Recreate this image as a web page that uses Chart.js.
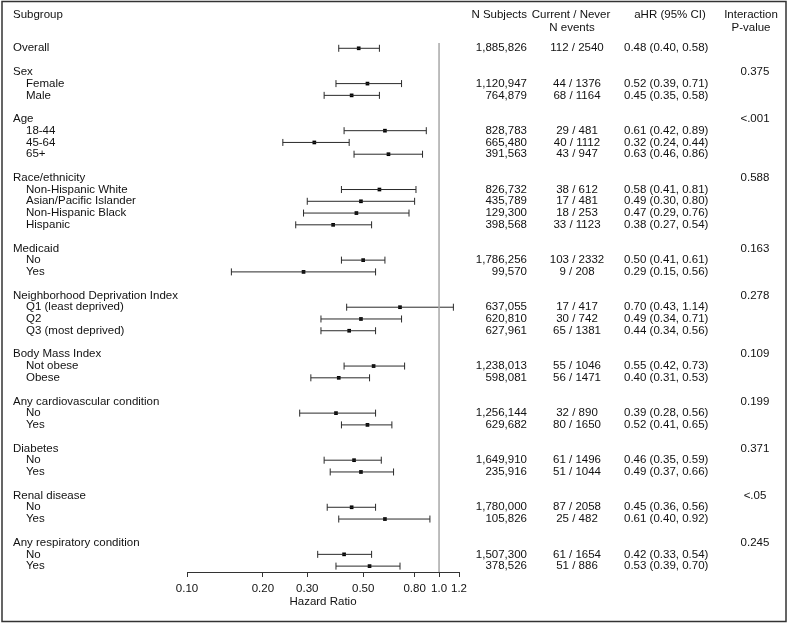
<!DOCTYPE html>
<html lang="en">
<head>
    <meta charset="UTF-8">
    <title>Forest plot - hazard ratios by subgroup</title>
    <script src="https://cdn.jsdelivr.net/npm/chart.js@4.4.1/dist/chart.umd.min.js"></script>
    <style>
        html, body { margin: 0; padding: 0; background: #ffffff; }
        #wrap { width: 788px; height: 624px; position: relative; }
    </style>
</head>
<body>
<div id="wrap"><canvas id="forest" width="788" height="624"></canvas></div>
<script>
    // one entry per row, '' = spacer row
    const rowLabels = ['Overall', '',
        'Sex', 'Female', 'Male', '',
        'Age', '18-44', '45-64', '65+', '',
        'Race/ethnicity', 'Non-Hispanic White', 'Asian/Pacific Islander', 'Non-Hispanic Black', 'Hispanic', '',
        'Medicaid', 'No', 'Yes', '',
        'Neighborhood Deprivation Index', 'Q1 (least deprived)', 'Q2', 'Q3 (most deprived)', '',
        'Body Mass Index', 'Not obese', 'Obese', '',
        'Any cardiovascular condition', 'No', 'Yes', '',
        'Diabetes', 'No', 'Yes', '',
        'Renal disease', 'No', 'Yes', '',
        'Any respiratory condition', 'No', 'Yes'];

    const hr = [0.48, null,
        null, 0.52, 0.45, null,
        null, 0.61, 0.32, 0.63, null,
        null, 0.58, 0.49, 0.47, 0.38, null,
        null, 0.50, 0.29, null,
        null, 0.70, 0.49, 0.44, null,
        null, 0.55, 0.40, null,
        null, 0.39, 0.52, null,
        null, 0.46, 0.49, null,
        null, 0.45, 0.61, null,
        null, 0.42, 0.53];
    const lower = [0.40, null,
        null, 0.39, 0.35, null,
        null, 0.42, 0.24, 0.46, null,
        null, 0.41, 0.30, 0.29, 0.27, null,
        null, 0.41, 0.15, null,
        null, 0.43, 0.34, 0.34, null,
        null, 0.42, 0.31, null,
        null, 0.28, 0.41, null,
        null, 0.35, 0.37, null,
        null, 0.36, 0.40, null,
        null, 0.33, 0.39];
    const upper = [0.58, null,
        null, 0.71, 0.58, null,
        null, 0.89, 0.44, 0.86, null,
        null, 0.81, 0.80, 0.76, 0.54, null,
        null, 0.61, 0.56, null,
        null, 1.14, 0.71, 0.56, null,
        null, 0.73, 0.53, null,
        null, 0.56, 0.65, null,
        null, 0.59, 0.66, null,
        null, 0.56, 0.92, null,
        null, 0.54, 0.70];

    const nSubjects = ['1,885,826', '',
        '', '1,120,947', '764,879', '',
        '', '828,783', '665,480', '391,563', '',
        '', '826,732', '435,789', '129,300', '398,568', '',
        '', '1,786,256', '99,570', '',
        '', '637,055', '620,810', '627,961', '',
        '', '1,238,013', '598,081', '',
        '', '1,256,144', '629,682', '',
        '', '1,649,910', '235,916', '',
        '', '1,780,000', '105,826', '',
        '', '1,507,300', '378,526'];
    const nEvents = ['112 / 2540', '',
        '', '44 / 1376', '68 / 1164', '',
        '', '29 / 481', '40 / 1112', '43 / 947', '',
        '', '38 / 612', '17 / 481', '18 / 253', '33 / 1123', '',
        '', '103 / 2332', '9 / 208', '',
        '', '17 / 417', '30 / 742', '65 / 1381', '',
        '', '55 / 1046', '56 / 1471', '',
        '', '32 / 890', '80 / 1650', '',
        '', '61 / 1496', '51 / 1044', '',
        '', '87 / 2058', '25 / 482', '',
        '', '61 / 1654', '51 / 886'];
    const pValues = ['', '',
        '0.375', '', '', '',
        '<.001', '', '', '', '',
        '0.588', '', '', '', '', '',
        '0.163', '', '', '',
        '0.278', '', '', '', '',
        '0.109', '', '', '',
        '0.199', '', '', '',
        '0.371', '', '', '',
        '<.05', '', '', '',
        '0.245', '', ''];

    const tickValues = [0.10, 0.20, 0.30, 0.50, 0.80, 1.0, 1.2];
    const tickLabels = ['0.10', '0.20', '0.30', '0.50', '0.80', '1.0', '1.2'];

    const FONT = '"Liberation Sans", Arial, Helvetica, sans-serif';
    const FSIZE = 11.5;
    const INK = '#111111';
    const yMin = -0.45, yMax = 44.5;

    // datasets
    const datasets = [];
    datasets.push({
        type: 'line',
        data: [{ x: 1, y: yMin }, { x: 1, y: yMax }],
        borderColor: '#a8a8a8',
        borderWidth: 1.5,
        pointRadius: 0
    });
    rowLabels.forEach((lab, i) => {
        if (hr[i] == null) return;
        datasets.push({
            type: 'line',
            data: [{ x: lower[i], y: i }, { x: upper[i], y: i }],
            borderColor: '#2a2a2a',
            borderWidth: 1,
            pointStyle: 'line',
            pointRotation: 90,
            pointRadius: 3.5,
            pointBorderWidth: 1,
            pointBorderColor: '#2a2a2a'
        });
    });
    datasets.push({
        type: 'scatter',
        data: hr.map((v, i) => v == null ? null : { x: v, y: i }).filter(p => p),
        pointStyle: 'rect',
        pointRadius: 2.6,
        backgroundColor: '#000000',
        borderColor: '#000000',
        borderWidth: 0
    });

    // text columns + frame
    const tablePlugin = {
        id: 'tableText',
        afterDraw(chart) {
            const ctx = chart.ctx;
            const ys = chart.scales.y;
            ctx.save();
            ctx.fillStyle = INK;
            ctx.font = FSIZE + 'px ' + FONT;
            ctx.textBaseline = 'middle';

            // headers
            ctx.textAlign = 'left';
            ctx.fillText('Subgroup', 13, 15);
            ctx.textAlign = 'right';
            ctx.fillText('N Subjects', 527, 15);
            ctx.textAlign = 'center';
            ctx.fillText('Current / Never', 571, 15);
            ctx.fillText('N events', 572, 28);
            ctx.fillText('aHR (95% CI)', 670, 15);
            ctx.fillText('Interaction', 751, 15);
            ctx.fillText('P-value', 751, 28);

            rowLabels.forEach((lab, i) => {
                const y = ys.getPixelForValue(i);
                if (lab) {
                    ctx.textAlign = 'left';
                    const indent = (hr[i] != null && i > 0) ? 26 : 13;
                    ctx.fillText(lab, indent, y);
                }
                if (nSubjects[i]) {
                    ctx.textAlign = 'right';
                    ctx.fillText(nSubjects[i], 527, y);
                }
                if (nEvents[i]) {
                    ctx.textAlign = 'center';
                    ctx.fillText(nEvents[i], 577, y);
                }
                if (hr[i] != null) {
                    ctx.textAlign = 'left';
                    ctx.fillText(hr[i].toFixed(2) + ' (' + lower[i].toFixed(2) + ', ' + upper[i].toFixed(2) + ')', 624, y);
                }
                if (pValues[i]) {
                    ctx.textAlign = 'center';
                    ctx.fillText(pValues[i], 755, y);
                }
            });

            // outer frame
            ctx.strokeStyle = '#333333';
            ctx.lineWidth = 1.5;
            ctx.strokeRect(2, 1.5, 784, 620);
            ctx.restore();
        }
    };

    new Chart(document.getElementById('forest'), {
        type: 'line',
        data: { datasets: datasets },
        options: {
            responsive: false,
            animation: false,
            devicePixelRatio: 1,
            layout: { padding: { left: 187, right: 329, top: 43, bottom: 0 } },
            plugins: {
                legend: { display: false },
                tooltip: { enabled: false }
            },
            scales: {
                x: {
                    type: 'logarithmic',
                    min: 0.1,
                    max: 1.2,
                    afterBuildTicks: scale => {
                        scale.ticks = tickValues.map(v => ({ value: v }));
                    },
                    afterFit: scale => { scale.height = 52; },
                    grid: {
                        drawOnChartArea: false,
                        drawTicks: true,
                        tickLength: 5,
                        color: '#333333'
                    },
                    border: { display: true, color: '#333333', width: 1 },
                    ticks: {
                        autoSkip: false,
                        maxRotation: 0,
                        padding: 5,
                        color: INK,
                        font: { family: FONT, size: FSIZE },
                        callback: (val, idx) => tickLabels[idx]
                    },
                    title: {
                        display: true,
                        text: 'Hazard Ratio',
                        color: INK,
                        font: { family: FONT, size: FSIZE },
                        padding: { top: 0, bottom: 15 }
                    }
                },
                y: {
                    type: 'linear',
                    display: false,
                    reverse: true,
                    min: yMin,
                    max: yMax
                }
            }
        },
        plugins: [tablePlugin]
    });
</script>
</body>
</html>
